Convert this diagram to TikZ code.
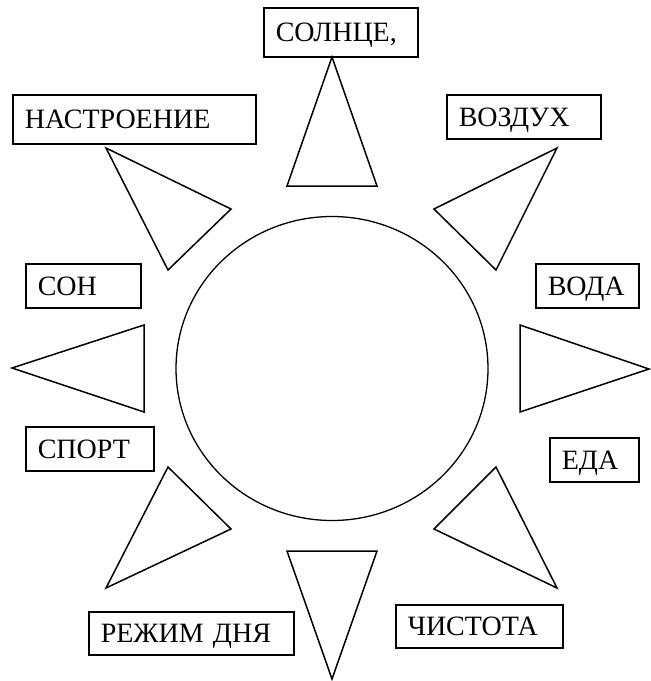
\documentclass[tikz,border=0pt]{standalone}
\usepackage{fontspec}
\setmainfont{Liberation Serif}
\begin{document}
\begin{tikzpicture}[x=1pt, y=-1pt,
  lbl/.style={draw, line width=1.6pt, anchor=north west, inner xsep=12pt, inner ysep=0pt,
    align=left, text height=19pt, text depth=0pt, font=\fontsize{28}{30}\selectfont},
  ray/.style={draw, line width=1.5pt, line join=miter}]
\useasboundingbox (0,0) rectangle (651,681);
% sun disc
\draw[line width=1.3pt] (332,368.5) ellipse [x radius=156pt, y radius=152pt];
% rays
\draw[ray] (332,57) -- (287,186) -- (377,186) -- cycle;
\draw[ray] (106,148) -- (231,209) -- (168,270) -- cycle;
\draw[ray] (557,148) -- (434,209) -- (496,270) -- cycle;
\draw[ray] (12,368) -- (144,325) -- (144,412) -- cycle;
\draw[ray] (649,369) -- (520,325) -- (520,412) -- cycle;
\draw[ray] (168,467) -- (231,529) -- (106,588) -- cycle;
\draw[ray] (496,467) -- (434,529) -- (557,588) -- cycle;
\draw[ray] (287,551) -- (377,551) -- (332,679) -- cycle;
% labels
\node[lbl, text width=130pt, minimum height=49pt] (sun) at (263,7) {СОЛНЦЕ,};
\node[lbl, text width=219pt, minimum height=49pt] (mood) at (12,94) {НАСТРОЕНИЕ};
\node[lbl, text width=130pt, minimum height=44pt] (air) at (446,94) {ВОЗДУХ};
\node[lbl, text width=91pt, minimum height=44pt] (sleep) at (25,263) {СОН};
\node[lbl, text width=79pt, minimum height=44pt] (water) at (535,263) {ВОДА};
\node[lbl, text width=104pt, minimum height=44pt] (sport) at (25,426) {СПОРТ};
\node[lbl, text width=65pt, minimum height=44pt] (food) at (549,437) {ЕДА};
\node[lbl, text width=181pt, minimum height=43pt] (regime) at (88,611) {РЕЖИМ ДНЯ};
\node[lbl, text width=143pt, minimum height=43pt] (clean) at (395,604) {ЧИСТОТА};
\end{tikzpicture}
\end{document}
